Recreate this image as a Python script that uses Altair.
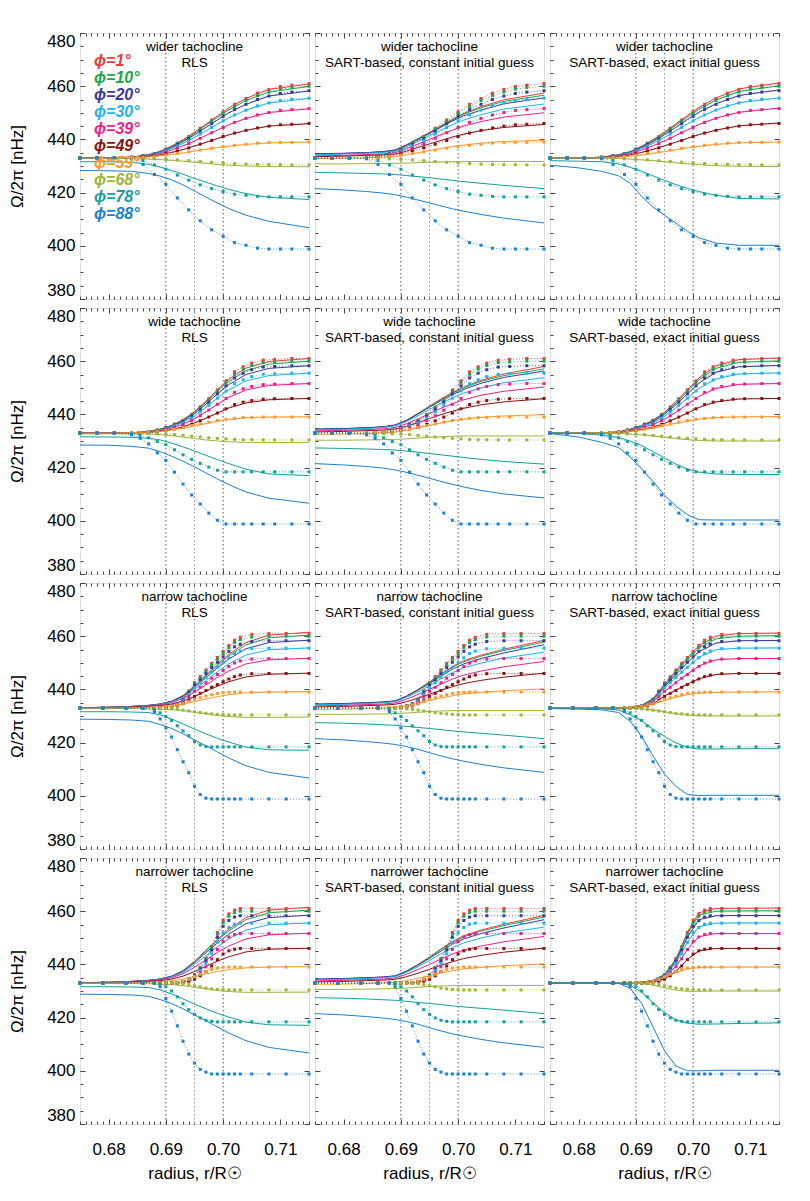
import altair as alt
import pandas as pd

LATS = [1, 10, 20, 30, 39, 49, 59, 68, 78, 88]
LAT_COLORS = ["#ee3b3b", "#1aa64f", "#3a3a9c", "#1cb3ee", "#ec1e8c",
              "#8b1111", "#ff992e", "#9eb43a", "#12a09d", "#1c7fd0"]
ROW_NAMES = ["wider tachocline", "wide tachocline", "narrow tachocline", "narrower tachocline"]
METHODS = ["RLS", "SART-based, constant initial guess", "SART-based, exact initial guess"]
GUIDE_R = [0.69, 0.695, 0.70]
X_TICKS = [0.68, 0.69, 0.70, 0.71]
Y_TICKS = [380, 400, 420, 440, 460, 480]

# ---------------- true (model) profiles: dotted ----------------
R_TRUE_WIDER = [0.675, 0.678, 0.681, 0.684, 0.686, 0.688, 0.690, 0.692, 0.694, 0.696,
                0.698, 0.700, 0.702, 0.704, 0.706, 0.708, 0.710, 0.712, 0.715]
TRUE_WIDER = {
    1: [433.0, 433.0, 433.0, 433.3, 433.8, 434.7, 436.4, 438.6, 441.1, 444.2, 447.3, 450.4, 453.2, 455.4, 457.4, 458.8, 459.9, 460.4, 461.0],
    10: [433.0, 433.0, 433.0, 433.3, 433.8, 434.6, 436.2, 438.4, 440.8, 443.8, 446.8, 449.7, 452.4, 454.6, 456.5, 457.8, 458.9, 459.5, 460.0],
    20: [433.0, 433.0, 433.0, 433.3, 433.8, 434.5, 436.0, 438.1, 440.3, 443.1, 445.9, 448.7, 451.2, 453.2, 455.0, 456.3, 457.3, 457.8, 458.3],
    30: [433.0, 433.0, 433.0, 433.2, 433.7, 434.4, 435.7, 437.5, 439.5, 442.0, 444.5, 447.0, 449.2, 451.0, 452.6, 453.7, 454.6, 455.1, 455.5],
    39: [433.0, 433.0, 433.0, 433.2, 433.6, 434.1, 435.2, 436.7, 438.4, 440.4, 442.5, 444.5, 446.4, 447.9, 449.2, 450.1, 450.9, 451.2, 451.6],
    49: [433.0, 433.0, 433.0, 433.1, 433.4, 433.8, 434.6, 435.6, 436.8, 438.2, 439.6, 441.1, 442.4, 443.4, 444.3, 445.0, 445.5, 445.7, 446.0],
    59: [433.0, 433.0, 433.0, 433.1, 433.3, 433.6, 434.1, 434.7, 435.3, 436.0, 436.7, 437.3, 437.8, 438.2, 438.6, 438.8, 438.9, 438.9, 439.0],
    68: [433.0, 433.0, 433.0, 433.0, 432.9, 432.7, 432.5, 432.3, 432.0, 431.7, 431.4, 431.2, 430.9, 430.7, 430.6, 430.5, 430.5, 430.4, 430.4],
    78: [433.0, 433.0, 433.0, 432.9, 432.0, 430.4, 428.8, 426.6, 424.7, 422.9, 421.5, 420.4, 419.4, 419.0, 418.6, 418.4, 418.4, 418.4, 418.4],
    88: [433.0, 433.0, 433.0, 432.7, 430.6, 426.8, 423.1, 418.0, 413.5, 409.4, 406.0, 403.6, 401.2, 400.2, 399.1, 398.8, 398.8, 398.8, 398.8],
}

R_TRUE_WIDE = [0.675, 0.678, 0.681, 0.684, 0.6855, 0.687, 0.6885, 0.690, 0.6915, 0.693, 0.6945,
               0.696, 0.6975, 0.699, 0.7005, 0.702, 0.7035, 0.705, 0.707, 0.709, 0.712, 0.715]
TRUE_WIDE = {
    1: [433.0, 433.0, 433.0, 433.0, 433.1, 433.4, 434.1, 435.1, 436.4, 437.8, 440.0, 442.8, 445.9, 449.2, 452.6, 456.0, 457.9, 459.3, 460.4, 460.7, 461.0, 461.0],
    10: [433.0, 433.0, 433.0, 433.0, 433.1, 433.4, 434.1, 435.0, 436.2, 437.6, 439.8, 442.5, 445.4, 448.7, 451.9, 455.1, 457.0, 458.4, 459.5, 459.7, 460.0, 460.0],
    20: [433.0, 433.0, 433.0, 433.0, 433.1, 433.4, 434.0, 434.9, 436.0, 437.3, 439.3, 441.9, 444.6, 447.7, 450.7, 453.7, 455.5, 456.8, 457.8, 458.0, 458.3, 458.3],
    30: [433.0, 433.0, 433.0, 433.0, 433.1, 433.3, 433.9, 434.7, 435.7, 436.8, 438.6, 440.9, 443.4, 446.1, 448.8, 451.5, 453.0, 454.2, 455.1, 455.3, 455.5, 455.5],
    39: [433.0, 433.0, 433.0, 433.0, 433.1, 433.3, 433.7, 434.4, 435.2, 436.2, 437.7, 439.5, 441.6, 443.8, 446.0, 448.3, 449.6, 450.5, 451.2, 451.4, 451.6, 451.6],
    49: [433.0, 433.0, 433.0, 433.0, 433.1, 433.2, 433.5, 434.0, 434.6, 435.2, 436.3, 437.6, 439.0, 440.5, 442.1, 443.7, 444.6, 445.2, 445.7, 445.9, 446.0, 446.0],
    59: [433.0, 433.0, 433.0, 433.1, 433.2, 433.4, 433.7, 434.0, 434.5, 435.1, 435.8, 436.4, 437.1, 437.7, 438.2, 438.5, 438.8, 438.9, 439.0, 439.0, 439.0, 439.0],
    68: [433.0, 433.0, 433.0, 433.0, 432.9, 432.8, 432.7, 432.6, 432.4, 432.1, 431.8, 431.5, 431.2, 431.0, 430.8, 430.6, 430.5, 430.5, 430.4, 430.4, 430.4, 430.4],
    78: [433.0, 433.0, 433.0, 432.7, 432.1, 431.2, 429.8, 428.6, 426.7, 424.8, 423.1, 421.6, 420.2, 419.0, 418.4, 418.4, 418.4, 418.4, 418.4, 418.4, 418.4, 418.4],
    88: [433.0, 433.0, 433.0, 432.3, 431.0, 428.9, 425.5, 422.7, 418.3, 413.8, 409.7, 406.3, 402.9, 400.2, 398.8, 398.8, 398.8, 398.8, 398.8, 398.8, 398.8, 398.8],
}

R_TRUE_NARROW = [0.675, 0.679, 0.683, 0.686, 0.688, 0.689, 0.690, 0.691, 0.692, 0.693, 0.694, 0.695,
                 0.696, 0.697, 0.698, 0.699, 0.700, 0.701, 0.702, 0.703, 0.705, 0.708, 0.711, 0.715]
TRUE_NARROW = {
    1: [433.0, 433.0, 433.0, 433.0, 433.0, 433.1, 433.3, 433.8, 434.7, 436.4, 439.4, 442.5, 444.8, 447.3, 449.8, 452.0, 454.3, 456.5, 458.5, 459.6, 460.7, 461.0, 461.0, 461.0],
    10: [433.0, 433.0, 433.0, 433.0, 433.0, 433.1, 433.3, 433.8, 434.6, 436.2, 439.2, 442.2, 444.3, 446.8, 449.2, 451.4, 453.5, 455.7, 457.6, 458.7, 459.7, 460.0, 460.0, 460.0],
    20: [433.0, 433.0, 433.0, 433.0, 433.0, 433.1, 433.3, 433.8, 434.5, 436.0, 438.8, 441.6, 443.6, 445.9, 448.2, 450.2, 452.2, 454.3, 456.0, 457.0, 458.0, 458.3, 458.3, 458.3],
    30: [433.0, 433.0, 433.0, 433.0, 433.0, 433.1, 433.2, 433.7, 434.4, 435.7, 438.2, 440.7, 442.5, 444.5, 446.5, 448.3, 450.1, 451.9, 453.5, 454.4, 455.3, 455.5, 455.5, 455.5],
    39: [433.0, 433.0, 433.0, 433.0, 433.0, 433.1, 433.2, 433.6, 434.1, 435.2, 437.3, 439.3, 440.8, 442.5, 444.2, 445.6, 447.1, 448.6, 449.9, 450.7, 451.4, 451.6, 451.6, 451.6],
    49: [433.0, 433.0, 433.0, 433.0, 433.0, 433.1, 433.1, 433.4, 433.8, 434.6, 436.0, 437.4, 438.5, 439.6, 440.8, 441.8, 442.9, 443.9, 444.8, 445.4, 445.9, 446.0, 446.0, 446.0],
    59: [433.0, 433.0, 433.0, 433.0, 433.1, 433.2, 433.4, 433.7, 434.1, 434.7, 435.5, 436.2, 436.9, 437.5, 438.0, 438.5, 438.8, 438.9, 439.0, 439.0, 439.0, 439.0, 439.0, 439.0],
    68: [433.0, 433.0, 433.0, 433.0, 433.0, 432.9, 432.8, 432.7, 432.5, 432.2, 431.9, 431.6, 431.3, 431.0, 430.8, 430.6, 430.5, 430.4, 430.4, 430.4, 430.4, 430.4, 430.4, 430.4],
    78: [433.0, 433.0, 433.0, 433.0, 432.4, 431.2, 429.8, 428.3, 426.3, 424.4, 422.6, 420.4, 419.1, 418.5, 418.4, 418.4, 418.4, 418.4, 418.4, 418.4, 418.4, 418.4, 418.4, 418.4],
    88: [433.0, 433.0, 433.0, 433.0, 431.6, 428.9, 425.5, 422.1, 417.3, 412.8, 408.7, 403.6, 400.5, 399.1, 398.8, 398.8, 398.8, 398.8, 398.8, 398.8, 398.8, 398.8, 398.8, 398.8],
}

R_TRUE_NARROWER = R_TRUE_NARROW
TRUE_NARROWER = {
    1: [433.0, 433.0, 433.0, 433.0, 433.0, 433.0, 433.0, 433.0, 433.1, 433.6, 434.4, 436.1, 438.9, 442.2, 446.7, 452.0, 456.5, 459.0, 460.4, 461.0, 461.0, 461.0, 461.0, 461.0],
    10: [433.0, 433.0, 433.0, 433.0, 433.0, 433.0, 433.0, 433.0, 433.1, 433.5, 434.4, 436.0, 438.7, 441.9, 446.2, 451.4, 455.7, 458.1, 459.5, 460.0, 460.0, 460.0, 460.0, 460.0],
    20: [433.0, 433.0, 433.0, 433.0, 433.0, 433.0, 433.0, 433.0, 433.1, 433.5, 434.3, 435.8, 438.3, 441.3, 445.4, 450.2, 454.3, 456.5, 457.8, 458.3, 458.3, 458.3, 458.3, 458.3],
    30: [433.0, 433.0, 433.0, 433.0, 433.0, 433.0, 433.0, 433.0, 433.1, 433.5, 434.1, 435.5, 437.7, 440.4, 444.0, 448.3, 451.9, 453.9, 455.1, 455.5, 455.5, 455.5, 455.5, 455.5],
    39: [433.0, 433.0, 433.0, 433.0, 433.0, 433.0, 433.0, 433.0, 433.1, 433.4, 433.9, 435.0, 436.9, 439.1, 442.1, 445.6, 448.6, 450.3, 451.2, 451.6, 451.6, 451.6, 451.6, 451.6],
    49: [433.0, 433.0, 433.0, 433.0, 433.0, 433.0, 433.0, 433.0, 433.1, 433.3, 433.7, 434.4, 435.7, 437.3, 439.4, 441.8, 443.9, 445.1, 445.7, 446.0, 446.0, 446.0, 446.0, 446.0],
    59: [433.0, 433.0, 433.0, 433.0, 433.0, 433.0, 433.0, 433.0, 433.2, 433.6, 434.3, 435.3, 436.3, 437.3, 438.1, 438.6, 438.9, 439.0, 439.0, 439.0, 439.0, 439.0, 439.0, 439.0],
    68: [433.0, 433.0, 433.0, 433.0, 433.0, 433.0, 433.0, 433.0, 432.9, 432.7, 432.4, 432.0, 431.6, 431.1, 430.8, 430.6, 430.5, 430.4, 430.4, 430.4, 430.4, 430.4, 430.4, 430.4],
    78: [433.0, 433.0, 433.0, 433.0, 433.0, 432.7, 431.6, 430.0, 427.8, 425.2, 423.0, 421.2, 419.9, 419.0, 418.6, 418.4, 418.4, 418.4, 418.4, 418.4, 418.4, 418.4, 418.4, 418.4],
    88: [433.0, 433.0, 433.0, 433.0, 433.0, 431.6, 427.2, 422.4, 416.9, 411.1, 406.3, 402.9, 400.5, 399.5, 398.8, 398.8, 398.8, 398.8, 398.8, 398.8, 398.8, 398.8, 398.8, 398.8],
}

# ---------------- inversions: solid lines ----------------
R_INV = [0.675, 0.680, 0.684, 0.687, 0.689, 0.691, 0.693, 0.695, 0.697, 0.699, 0.701, 0.704, 0.708, 0.715]

INV_WIDER_RLS = {
    1: [433.0, 433.0, 433.3, 434.3, 435.5, 437.5, 439.9, 442.7, 445.7, 448.8, 451.8, 455.4, 458.8, 460.8],
    10: [433.0, 433.0, 433.3, 434.2, 435.4, 437.3, 439.6, 442.3, 445.3, 448.3, 451.1, 454.6, 457.8, 459.9],
    20: [433.0, 433.0, 433.3, 434.1, 435.3, 437.0, 439.2, 441.7, 444.5, 447.3, 450.0, 453.2, 456.3, 458.2],
    30: [433.0, 433.0, 433.2, 434.0, 435.0, 436.6, 438.5, 440.8, 443.2, 445.7, 448.1, 451.0, 453.7, 455.4],
    39: [433.0, 433.0, 433.2, 433.8, 434.7, 436.0, 437.6, 439.4, 441.5, 443.5, 445.5, 447.9, 450.1, 451.5],
    49: [433.0, 433.0, 433.1, 433.6, 434.2, 435.1, 436.2, 437.5, 438.9, 440.3, 441.7, 443.4, 445.0, 445.9],
    59: [433.0, 433.0, 433.1, 433.4, 433.8, 434.3, 434.9, 435.6, 436.3, 436.9, 437.4, 438.1, 438.7, 439.0],
    68: [432.8, 432.8, 432.8, 432.6, 432.4, 432.1, 431.8, 431.4, 431.0, 430.6, 430.3, 430.0, 429.8, 429.7],
    78: [431.6, 431.6, 431.4, 430.6, 429.6, 428.3, 426.9, 425.3, 423.9, 422.5, 421.2, 419.6, 418.2, 417.4],
    88: [428.3, 428.2, 428.0, 427.2, 426.2, 424.8, 422.9, 420.6, 418.3, 416.1, 414.0, 411.5, 409.2, 406.8],
}
INV_WIDER_SART_CONST = {
    1: [434.4, 434.7, 435.0, 435.4, 436.0, 438.0, 440.3, 442.6, 445.1, 447.6, 449.8, 452.3, 454.9, 457.4],
    10: [434.4, 434.7, 435.0, 435.4, 436.0, 437.9, 440.2, 442.5, 444.9, 447.3, 449.5, 451.9, 454.3, 456.6],
    20: [434.6, 434.8, 435.0, 435.4, 435.9, 437.8, 440.0, 442.2, 444.6, 446.9, 448.9, 451.0, 453.4, 455.6],
    30: [434.3, 434.5, 434.8, 435.1, 435.6, 437.3, 439.3, 441.4, 443.5, 445.5, 447.3, 449.3, 451.4, 453.3],
    39: [433.8, 434.0, 434.3, 434.6, 435.0, 436.5, 438.2, 440.0, 441.8, 443.5, 445.0, 446.7, 448.4, 450.0],
    49: [433.5, 433.7, 434.0, 434.2, 434.5, 435.6, 437.0, 438.3, 439.6, 440.9, 442.0, 443.3, 444.5, 445.6],
    59: [432.8, 432.9, 433.1, 433.3, 433.5, 434.2, 435.0, 435.8, 436.6, 437.3, 437.9, 438.6, 439.2, 439.7],
    68: [430.8, 430.8, 430.9, 430.9, 431.0, 431.1, 431.3, 431.4, 431.5, 431.6, 431.7, 431.7, 431.7, 431.7],
    78: [427.6, 427.4, 427.2, 427.0, 426.8, 426.4, 426.0, 425.6, 425.1, 424.6, 424.1, 423.5, 422.7, 421.5],
    88: [421.5, 421.0, 420.4, 419.8, 419.2, 418.3, 417.2, 416.1, 415.0, 413.9, 413.0, 411.8, 410.4, 408.6],
}
INV_WIDER_SART_EXACT = {
    1: [433.0, 433.0, 433.3, 434.2, 435.4, 437.4, 439.9, 442.8, 445.9, 449.0, 452.0, 455.6, 459.0, 461.2],
    10: [433.0, 433.0, 433.3, 434.2, 435.3, 437.2, 439.6, 442.4, 445.4, 448.4, 451.3, 454.8, 458.0, 460.2],
    20: [433.0, 433.0, 433.3, 434.1, 435.2, 437.0, 439.2, 441.8, 444.6, 447.5, 450.2, 453.4, 456.5, 458.6],
    30: [433.0, 433.0, 433.2, 434.0, 435.0, 436.6, 438.5, 440.8, 443.3, 445.8, 448.2, 451.1, 453.8, 455.6],
    39: [433.0, 433.0, 433.2, 433.8, 434.6, 436.0, 437.6, 439.5, 441.5, 443.6, 445.6, 448.0, 450.2, 451.8],
    49: [433.0, 433.0, 433.1, 433.6, 434.2, 435.1, 436.3, 437.6, 439.0, 440.4, 441.8, 443.5, 445.1, 446.2],
    59: [433.0, 433.0, 433.1, 433.3, 433.6, 434.1, 434.7, 435.4, 436.1, 436.8, 437.4, 438.1, 438.7, 439.0],
    68: [433.0, 433.0, 432.9, 432.8, 432.6, 432.3, 432.0, 431.6, 431.2, 430.8, 430.5, 430.1, 429.9, 429.8],
    78: [432.0, 431.8, 431.6, 430.8, 429.5, 428.0, 426.3, 424.6, 423.0, 421.6, 420.4, 419.0, 417.8, 417.6],
    88: [430.3, 429.3, 428.0, 426.3, 423.5, 418.6, 414.5, 411.5, 408.5, 405.5, 403.0, 401.0, 400.2, 400.2],
}

INV_WIDE_RLS = {
    1: [433.0, 433.0, 433.1, 433.6, 434.4, 435.8, 438.0, 441.1, 445.0, 449.2, 453.2, 457.4, 459.9, 461.0],
    10: [433.0, 433.0, 433.1, 433.5, 434.4, 435.7, 437.9, 440.8, 444.6, 448.7, 452.4, 456.5, 458.9, 460.0],
    20: [433.0, 433.0, 433.1, 433.5, 434.3, 435.5, 437.6, 440.3, 443.9, 447.7, 451.2, 455.0, 457.3, 458.3],
    30: [433.0, 433.0, 433.1, 433.5, 434.1, 435.3, 437.1, 439.5, 442.7, 446.1, 449.2, 452.6, 454.6, 455.5],
    39: [433.0, 433.0, 433.1, 433.4, 433.9, 434.9, 436.3, 438.4, 441.0, 443.8, 446.4, 449.2, 450.9, 451.6],
    49: [433.0, 433.0, 433.0, 433.3, 433.7, 434.3, 435.3, 436.8, 438.6, 440.5, 442.4, 444.3, 445.5, 446.0],
    59: [433.0, 433.0, 433.1, 433.3, 433.6, 434.1, 434.8, 435.6, 436.5, 437.4, 438.1, 438.7, 439.0, 439.1],
    68: [432.7, 432.7, 432.7, 432.6, 432.4, 432.0, 431.5, 430.9, 430.4, 430.0, 429.7, 429.5, 429.4, 429.5],
    78: [431.6, 431.5, 431.4, 431.0, 430.4, 429.2, 427.8, 426.2, 424.6, 423.0, 421.5, 419.4, 417.6, 417.0],
    88: [428.5, 428.4, 428.0, 427.3, 426.0, 424.3, 422.4, 420.3, 418.0, 415.7, 413.6, 410.8, 408.5, 406.6],
}
INV_WIDE_SART_CONST = {
    1: [434.3, 434.6, 434.9, 435.3, 436.0, 437.8, 440.4, 443.1, 445.8, 448.2, 450.3, 452.8, 455.2, 458.0],
    10: [434.3, 434.6, 434.9, 435.3, 436.0, 437.8, 440.3, 443.0, 445.6, 447.9, 450.0, 452.4, 454.6, 457.1],
    20: [434.5, 434.7, 435.0, 435.4, 436.0, 437.7, 440.1, 442.7, 445.2, 447.4, 449.4, 451.7, 453.9, 456.3],
    30: [434.2, 434.4, 434.7, 435.1, 435.7, 437.3, 439.5, 441.9, 444.2, 446.2, 448.0, 450.0, 451.9, 453.8],
    39: [433.8, 434.0, 434.3, 434.6, 435.1, 436.5, 438.3, 440.3, 442.3, 444.0, 445.5, 447.2, 448.7, 450.3],
    49: [433.4, 433.6, 433.9, 434.1, 434.5, 435.5, 436.9, 438.4, 439.9, 441.2, 442.3, 443.6, 444.7, 445.9],
    59: [432.5, 432.6, 432.8, 433.0, 433.3, 434.0, 434.9, 435.9, 436.8, 437.6, 438.2, 438.9, 439.4, 439.9],
    68: [430.3, 430.3, 430.4, 430.5, 430.6, 430.8, 431.1, 431.4, 431.6, 431.8, 431.9, 431.9, 431.9, 431.9],
    78: [427.4, 427.2, 427.0, 426.8, 426.6, 426.2, 425.8, 425.3, 424.8, 424.3, 423.8, 423.1, 422.3, 421.3],
    88: [421.5, 421.0, 420.4, 419.8, 419.1, 418.2, 417.1, 416.0, 414.8, 413.7, 412.7, 411.4, 410.1, 408.6],
}
INV_WIDE_SART_EXACT = {
    1: [433.0, 433.0, 433.0, 433.4, 434.4, 435.8, 437.8, 440.8, 444.8, 449.2, 453.7, 458.2, 460.6, 461.2],
    10: [433.0, 433.0, 433.0, 433.4, 434.4, 435.7, 437.6, 440.6, 444.3, 448.7, 453.0, 457.3, 459.6, 460.1],
    20: [433.0, 433.0, 433.0, 433.4, 434.3, 435.5, 437.3, 440.1, 443.6, 447.7, 451.7, 455.8, 457.9, 458.4],
    30: [433.0, 433.0, 433.0, 433.3, 434.1, 435.3, 436.8, 439.3, 442.5, 446.1, 449.7, 453.3, 455.2, 455.6],
    39: [433.0, 433.0, 433.0, 433.3, 433.9, 434.9, 436.2, 438.2, 440.8, 443.8, 446.8, 449.7, 451.3, 451.6],
    49: [433.0, 433.0, 433.0, 433.2, 433.7, 434.3, 435.2, 436.6, 438.5, 440.5, 442.6, 444.7, 445.8, 446.0],
    59: [433.0, 433.0, 433.1, 433.3, 433.6, 434.1, 434.8, 435.7, 436.6, 437.5, 438.2, 438.8, 439.1, 439.2],
    68: [433.0, 433.0, 432.9, 432.8, 432.6, 432.3, 431.9, 431.4, 430.9, 430.5, 430.2, 430.0, 430.0, 430.0],
    78: [433.0, 432.8, 432.2, 431.3, 430.0, 428.3, 426.0, 423.6, 421.3, 419.5, 418.3, 417.6, 417.4, 417.4],
    88: [432.8, 431.5, 429.5, 427.5, 424.0, 419.5, 414.8, 409.6, 405.5, 402.3, 400.4, 400.3, 400.3, 400.3],
}

INV_NARROW_RLS = {
    1: [433.1, 433.3, 433.6, 434.0, 434.5, 435.6, 437.7, 441.2, 445.3, 449.4, 453.2, 457.6, 460.4, 461.5],
    10: [433.1, 433.3, 433.6, 434.0, 434.5, 435.5, 437.6, 441.0, 445.0, 449.0, 452.6, 456.8, 459.4, 460.4],
    20: [433.1, 433.3, 433.6, 434.0, 434.5, 435.5, 437.4, 440.6, 444.4, 448.1, 451.4, 455.3, 457.6, 458.5],
    30: [433.0, 433.2, 433.5, 433.9, 434.4, 435.3, 437.0, 439.9, 443.3, 446.6, 449.6, 452.9, 454.9, 455.6],
    39: [433.0, 433.2, 433.4, 433.8, 434.2, 435.0, 436.5, 438.9, 441.7, 444.5, 446.9, 449.6, 451.1, 451.7],
    49: [432.9, 433.1, 433.3, 433.6, 433.9, 434.5, 435.6, 437.3, 439.3, 441.2, 442.9, 444.7, 445.7, 446.1],
    59: [432.9, 433.0, 433.1, 433.3, 433.5, 433.9, 434.5, 435.4, 436.4, 437.3, 438.0, 438.7, 439.0, 439.2],
    68: [432.8, 432.8, 432.8, 432.7, 432.6, 432.4, 432.0, 431.4, 430.8, 430.2, 429.8, 429.5, 429.5, 429.6],
    78: [431.6, 431.6, 431.5, 431.3, 430.4, 428.9, 427.0, 425.1, 423.3, 421.6, 420.2, 418.3, 417.3, 417.1],
    88: [428.8, 428.7, 428.5, 428.0, 426.8, 425.3, 423.3, 421.0, 418.8, 416.5, 414.2, 411.3, 408.8, 406.7],
}
INV_NARROW_SART_CONST = {
    1: [434.3, 434.6, 434.9, 435.2, 435.6, 437.5, 440.0, 442.8, 445.8, 448.6, 450.8, 452.9, 455.1, 458.4],
    10: [434.3, 434.6, 434.9, 435.2, 435.6, 437.5, 439.9, 442.6, 445.6, 448.3, 450.4, 452.5, 454.6, 457.8],
    20: [434.5, 434.7, 435.0, 435.3, 435.7, 437.4, 439.7, 442.3, 445.0, 447.6, 449.6, 451.6, 453.7, 456.8],
    30: [434.2, 434.4, 434.7, 435.0, 435.4, 437.0, 439.1, 441.5, 444.0, 446.3, 448.1, 449.9, 451.8, 454.0],
    39: [433.8, 434.0, 434.3, 434.5, 434.9, 436.3, 438.1, 440.0, 442.0, 443.9, 445.4, 446.9, 448.5, 450.5],
    49: [433.4, 433.6, 433.9, 434.1, 434.4, 435.4, 436.7, 438.2, 439.7, 441.0, 442.2, 443.4, 444.6, 446.1],
    59: [432.5, 432.6, 432.8, 433.0, 433.2, 433.9, 434.8, 435.8, 436.8, 437.6, 438.3, 438.9, 439.5, 440.2],
    68: [430.6, 430.6, 430.7, 430.8, 430.9, 431.1, 431.4, 431.7, 431.9, 432.0, 432.1, 432.1, 432.1, 432.1],
    78: [427.5, 427.3, 427.0, 426.7, 426.5, 426.1, 425.7, 425.3, 424.9, 424.4, 424.0, 423.5, 422.8, 421.5],
    88: [421.5, 421.0, 420.4, 419.8, 419.3, 418.5, 417.5, 416.2, 415.0, 413.9, 413.0, 411.8, 410.5, 408.8],
}
INV_NARROW_SART_EXACT = {
    1: [433.0, 433.0, 433.0, 433.0, 433.2, 434.0, 436.6, 441.8, 447.0, 451.9, 456.4, 460.0, 461.0, 461.2],
    10: [433.0, 433.0, 433.0, 433.0, 433.2, 433.9, 436.4, 441.5, 446.5, 451.2, 455.6, 459.0, 460.0, 460.2],
    20: [433.0, 433.0, 433.0, 433.0, 433.2, 433.9, 436.1, 441.0, 445.6, 450.0, 454.1, 457.4, 458.3, 458.4],
    30: [433.0, 433.0, 433.0, 433.0, 433.2, 433.8, 435.8, 440.3, 444.5, 448.4, 452.1, 454.9, 455.5, 455.6],
    39: [433.0, 433.0, 433.0, 433.0, 433.1, 433.7, 435.3, 439.2, 442.6, 445.8, 448.8, 451.1, 451.6, 451.6],
    49: [433.0, 433.0, 433.0, 433.0, 433.1, 433.5, 434.6, 437.5, 439.8, 442.0, 444.0, 445.6, 446.0, 446.0],
    59: [433.0, 433.0, 433.0, 433.1, 433.3, 433.8, 434.6, 435.8, 437.0, 438.0, 438.6, 438.9, 439.0, 439.1],
    68: [433.1, 433.1, 433.0, 433.0, 432.9, 432.7, 432.3, 431.6, 430.8, 430.3, 430.1, 430.0, 430.0, 430.0],
    78: [433.0, 432.9, 432.7, 432.2, 430.5, 428.2, 425.0, 422.3, 419.9, 418.2, 417.6, 417.6, 417.7, 417.7],
    88: [432.8, 432.6, 432.3, 431.3, 428.0, 422.4, 415.0, 408.2, 403.5, 400.5, 400.1, 400.2, 400.2, 400.2],
}

INV_NARROWER_RLS = INV_NARROW_RLS
INV_NARROWER_SART_CONST = INV_NARROW_SART_CONST
INV_NARROWER_SART_EXACT = {
    1: [433.0, 433.0, 433.0, 433.0, 433.1, 433.3, 434.0, 436.2, 442.0, 452.0, 459.4, 461.0, 461.1, 461.2],
    10: [433.0, 433.0, 433.0, 433.0, 433.1, 433.3, 434.0, 436.1, 441.8, 451.4, 458.5, 460.0, 460.1, 460.2],
    20: [433.0, 433.0, 433.0, 433.0, 433.1, 433.3, 433.9, 435.9, 441.3, 450.2, 456.8, 458.3, 458.4, 458.4],
    30: [433.0, 433.0, 433.0, 433.0, 433.1, 433.2, 433.8, 435.6, 440.5, 448.3, 454.2, 455.5, 455.6, 455.6],
    39: [433.0, 433.0, 433.0, 433.0, 433.1, 433.2, 433.7, 435.2, 439.3, 445.6, 450.4, 451.6, 451.6, 451.6],
    49: [433.0, 433.0, 433.0, 433.0, 433.0, 433.1, 433.5, 434.5, 437.4, 441.8, 445.1, 446.0, 446.0, 446.0],
    59: [433.0, 433.0, 433.0, 433.0, 433.1, 433.3, 433.9, 435.2, 436.9, 438.2, 438.8, 439.0, 439.0, 439.0],
    68: [433.1, 433.1, 433.1, 433.1, 433.0, 432.8, 432.2, 431.2, 430.3, 429.9, 429.9, 430.0, 430.0, 430.0],
    78: [433.0, 433.0, 433.0, 432.9, 432.2, 429.5, 425.6, 421.9, 419.2, 417.9, 417.5, 417.6, 417.8, 418.0],
    88: [433.0, 433.1, 433.2, 432.9, 431.0, 425.3, 416.5, 407.5, 401.8, 400.0, 400.0, 400.2, 400.2, 400.2],
}

TRUE_ROWS = [(R_TRUE_WIDER, TRUE_WIDER), (R_TRUE_WIDE, TRUE_WIDE),
             (R_TRUE_NARROW, TRUE_NARROW), (R_TRUE_NARROWER, TRUE_NARROWER)]
INV_PANELS = [
    [INV_WIDER_RLS, INV_WIDER_SART_CONST, INV_WIDER_SART_EXACT],
    [INV_WIDE_RLS, INV_WIDE_SART_CONST, INV_WIDE_SART_EXACT],
    [INV_NARROW_RLS, INV_NARROW_SART_CONST, INV_NARROW_SART_EXACT],
    [INV_NARROWER_RLS, INV_NARROWER_SART_CONST, INV_NARROWER_SART_EXACT],
]


def to_long(rs, table):
    recs = []
    for lat in LATS:
        for r, w in zip(rs, table[lat]):
            recs.append({"r": r, "omega": w, "lat": str(lat)})
    return pd.DataFrame(recs)


FONT = "Liberation Sans"
TICK = "#444444"
XS = alt.Scale(domain=[0.675, 0.715], nice=False, zero=False)
YS = alt.Scale(domain=[380, 480], nice=False, zero=False)
CS = alt.Scale(domain=[str(l) for l in LATS], range=LAT_COLORS)
X_MINOR = [round(0.675 + 0.001 * i, 3) for i in range(41)]
Y_MINOR = list(range(380, 481, 5))
guide_df = pd.DataFrame({"r": GUIDE_R})


def xax(orient, values, size, labels=False, title=None):
    kw = dict(orient=orient, values=values, offset=-size, tickSize=size, domain=False,
              grid=False, tickColor=TICK, labels=labels, title=title)
    if labels:
        kw.update(format=".2f", labelPadding=17, labelFont=FONT, labelFontSize=17,
                  labelColor="black", titleFont=FONT, titleFontSize=17,
                  titleFontWeight="normal", titleColor="black", titlePadding=8)
    return alt.Axis(**kw)


def yax(orient, values, size, labels=False, title=None):
    kw = dict(orient=orient, values=values, offset=-size, tickSize=size, domain=False,
              grid=False, tickColor=TICK, labels=labels, title=title)
    if labels:
        kw.update(format="d", labelPadding=5, labelFont=FONT, labelFontSize=17,
                  labelColor="black", labelFlush=True, titleFont=FONT, titleFontSize=17,
                  titleFontWeight="normal", titleColor="black", titlePadding=20)
    return alt.Axis(**kw)


LEGEND = alt.Legend(
    orient="none", legendX=-2, legendY=20, title=None, symbolSize=0, symbolOpacity=0,
    symbolStrokeWidth=0, labelOffset=0, rowPadding=1, padding=0,
    labelFont=FONT, labelFontSize=16, labelFontWeight="bold", labelFontStyle="italic",
    labelExpr="'ϕ=' + datum.label + '°'",
    labelColor={"expr": "scale('color', datum.value)"},
)


def panel(ri, ci):
    bottom = ri == 3
    left = ci == 0
    rs, table = TRUE_ROWS[ri]
    tdf = to_long(rs, table)
    idf = to_long(R_INV, INV_PANELS[ri][ci])
    leg = LEGEND if (ri == 0 and ci == 0) else None

    rules = alt.Chart(guide_df).mark_rule(strokeDash=[1.5, 2.5], strokeWidth=1).encode(
        x=alt.X("r:Q", scale=XS, axis=xax("top", X_MINOR, 3)),
        color=alt.condition("datum.r == 0.695", alt.value("#9a9a9a"), alt.value("#555555")),
    )
    inv = alt.Chart(idf).mark_line(strokeWidth=1).encode(
        x=alt.X("r:Q", scale=XS, axis=xax("top", X_TICKS, 5)),
        y=alt.Y("omega:Q", scale=YS, axis=yax("right", Y_TICKS, 5)),
        color=alt.Color("lat:N", scale=CS, legend=leg),
    )
    tline = alt.Chart(tdf).mark_line(strokeWidth=0.8, strokeDash=[1, 2]).encode(
        x=alt.X("r:Q", scale=XS, axis=xax("bottom", X_TICKS, 5, labels=bottom,
                                          title="radius, r/R☉" if bottom else None)),
        y=alt.Y("omega:Q", scale=YS, axis=yax("left", Y_TICKS, 5, labels=left,
                                              title="Ω/2π [nHz]" if left else None)),
        color=alt.Color("lat:N", scale=CS, legend=None),
    )
    tpts = alt.Chart(tdf).mark_square(size=9, opacity=1).encode(
        x=alt.X("r:Q", scale=XS, axis=xax("bottom", X_MINOR, 3)),
        y=alt.Y("omega:Q", scale=YS, axis=yax("left", Y_MINOR, 3)),
        color=alt.Color("lat:N", scale=CS, legend=None),
    )
    return alt.layer(rules, inv, tline, tpts).resolve_axis(
        x="independent", y="independent"
    ).properties(
        width=229, height=266,
        title=alt.TitleParams(text=[ROW_NAMES[ri], METHODS[ci]], anchor="middle",
                              baseline="bottom", offset=-51, font=FONT, fontSize=13.5,
                              fontWeight="normal", color="black", lineHeight=16),
    )


rows = [alt.hconcat(*[panel(ri, ci) for ci in range(3)], spacing=0) for ri in range(4)]
chart = alt.vconcat(*rows, spacing=6).properties(
    padding={"top": 23, "left": 0, "right": 5, "bottom": 5}
).configure_view(stroke="#555555", strokeWidth=1).configure(background="white")

chart.save("out.html", embed_options={"renderer": "svg", "actions": False})
